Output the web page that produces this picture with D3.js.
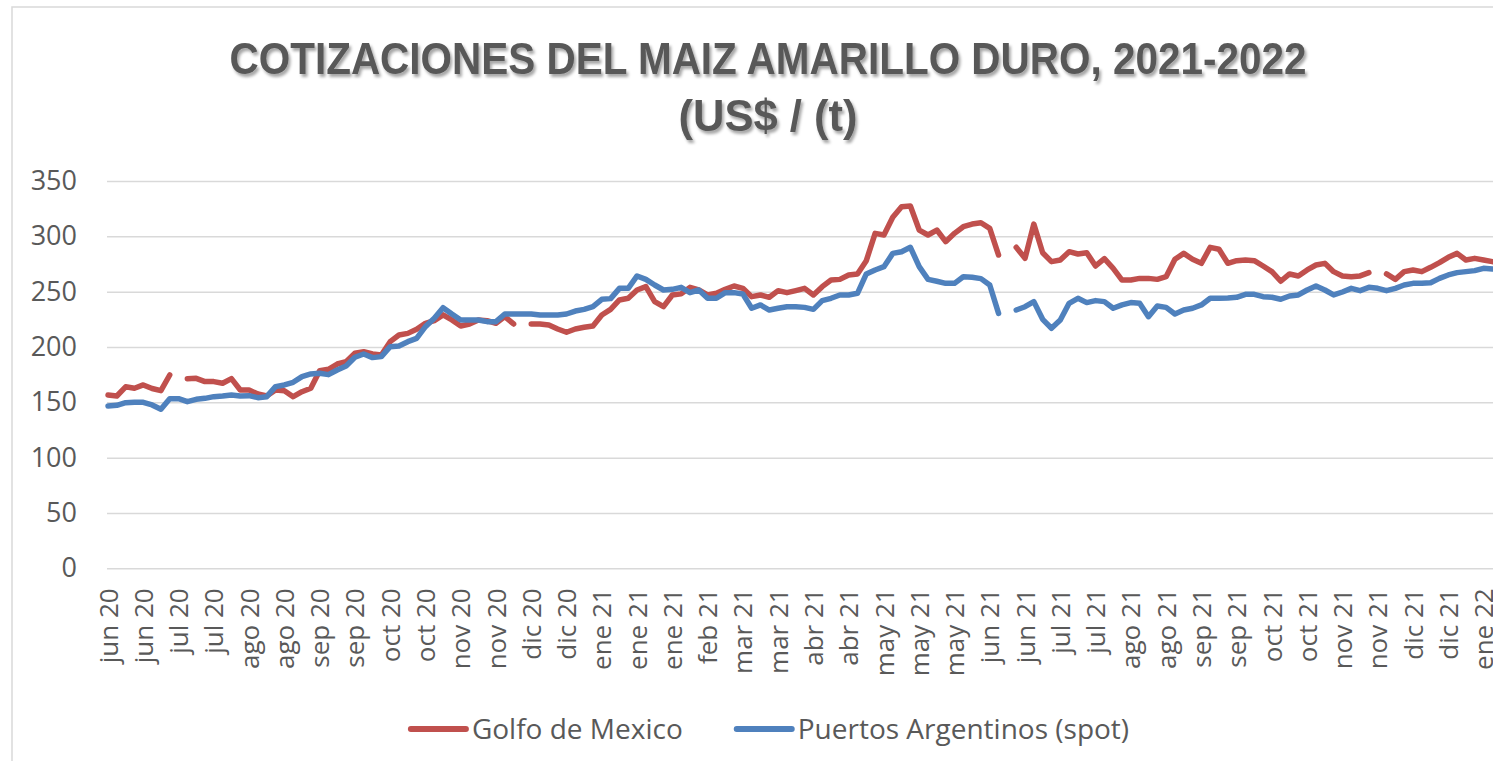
<!DOCTYPE html>
<html>
<head>
<meta charset="utf-8">
<script src="https://cdn.jsdelivr.net/npm/d3@7"></script>
<style>
  body { margin: 0; background: #fff; }
  svg { display: block; font-family: "Open Sans", sans-serif; }
</style>
</head>
<body>
<svg id="chart"></svg>
<script>
// etiquetas del eje x (una cada 4 observaciones)
const tickLabels = [
  "jun 20", "jun 20", "jul 20", "jul 20", "ago 20", "ago 20", "sep 20", "sep 20",
  "oct 20", "oct 20", "nov 20", "nov 20", "dic 20", "dic 20", "ene 21", "ene 21",
  "ene 21", "feb 21", "mar 21", "mar 21", "abr 21", "abr 21", "may 21", "may 21",
  "may 21", "jun 21", "jun 21", "jul 21", "jul 21", "ago 21", "ago 21", "sep 21",
  "sep 21", "oct 21", "oct 21", "nov 21", "nov 21", "dic 21", "dic 21", "ene 22"
];

// Golfo de Mexico (US$/t)
const golfo = [
  156.6, 155.7, 164, 162.7, 165.7, 162.5, 160.5, 174.7, null, 171.4,
  171.7, 168.7, 168.7, 167.2, 171.4, 161.1, 161.1, 157.5, 155.7, 161.1,
  160.5, 155.1, 159.6, 162.7, 178.6, 179.8, 184.6, 186.7, 194.3, 195.8,
  193.7, 192.8, 204.8, 210.8, 212.3, 216, 221.4, 223.8, 229, 224.4,
  219, 220.8, 224.4, 223.8, 221.4, 227.4, 220.8, null, 220.8, 220.8,
  219.9, 216.3, 213.3, 216.3, 217.8, 219, 228.9, 234, 242.5, 244,
  251.5, 254.5, 241, 236.4, 247, 248, 253.9, 251.5, 247, 248.5,
  252.1, 255.1, 253, 245.5, 247, 244.9, 250.9, 249.1, 251, 253,
  247, 254.5, 260.5, 261.1, 265.1, 266, 278, 302.7, 301.2, 317.2,
  326.8, 327.4, 305.7, 301.2, 305.7, 295.2, 302.7, 308.7, 311.1, 312.3,
  307.2, 283.1, null, 290.1, 280.1, 311.1, 285.2, 277.1, 278.6, 286.1,
  284, 285.2, 273.2, 279.8, 271.1, 260.5, 260.5, 262, 262, 261.1,
  263.5, 279.2, 284.6, 279.2, 275.6, 290, 288.3, 275.6, 278, 278.6,
  278, 273.2, 268.1, 259.4, 266, 264.2, 269.6, 274.1, 275.6, 268.1,
  264.2, 263.5, 264.2, 267.2, null, 266, 261.1, 268.1, 269.6, 268.1,
  272, 276.2, 281, 284.6, 278.6, 280.1, 278.6, 277.1
];

// Puertos Argentinos (spot) (US$/t)
const puertos = [
  146.7, 147.3, 149.7, 150, 150, 147.6, 143.7, 153.3, 153.3, 150.6,
  152.7, 153.6, 155.1, 155.7, 156.6, 155.7, 156, 154.2, 155.1, 164.2,
  165.7, 168.1, 173.2, 175.6, 176.2, 175, 179.2, 182.8, 190.7, 193.7,
  190.4, 191.3, 200.3, 200.9, 204.8, 207.8, 218.4, 225.9, 235.5, 229.8,
  224.4, 224.4, 224.4, 222.9, 222.9, 229.8, 229.8, 229.8, 229.8, 228.9,
  228.9, 228.9, 229.8, 232.5, 234, 236.4, 243.1, 243.7, 253, 253,
  264.2, 261.1, 256, 251.5, 252.1, 253.9, 249.1, 251.5, 244, 244,
  249.1, 249.1, 247.9, 235, 238, 233.4, 235, 236.4, 236.4, 235.8,
  234, 241.9, 244, 247, 247, 248.5, 266, 269.6, 272.6, 284.6,
  286.1, 290.1, 272.6, 261.1, 259.4, 257.5, 257.5, 263.5, 263, 261.8,
  256, 230.4, null, 233.4, 236.4, 241, 225, 216.9, 224.4, 239.5,
  244, 240.1, 241.9, 241, 235, 238, 240.1, 239.5, 227.4, 237,
  235.8, 229.8, 233.4, 235, 238, 244, 244, 244.3, 244.9, 247.6,
  247.6, 245.5, 244.9, 243.1, 246.1, 247, 251.5, 255.1, 251.5, 247,
  249.7, 253, 250.9, 253.9, 253, 250.9, 253, 256, 257.5, 257.5,
  258.1, 262, 265.1, 267.2, 268.1, 269, 271.1, 270.5
];

const yTicks = [0, 50, 100, 150, 200, 250, 300, 350];
const seriesNames = ["Golfo de Mexico", "Puertos Argentinos (spot)"];

const w = 1493;
const h = 761;
const plotLeft = 107;
const step = 8.8175;
const colors = ["#c0504d", "#4f81bd"];
const grey = "#595959";

const svg = d3.select("#chart")
  .attr("width", w)
  .attr("height", h);

const defs = svg.append("defs");
defs.append("filter")
  .attr("id", "shadow")
  .attr("x", "-5%").attr("y", "-30%").attr("width", "110%").attr("height", "160%")
  .append("feDropShadow")
  .attr("dx", 2).attr("dy", 3)
  .attr("stdDeviation", 1.6)
  .attr("flood-color", "#000")
  .attr("flood-opacity", 0.35);

// marco del grafico
svg.append("rect")
  .attr("x", 12).attr("y", 7)
  .attr("width", w).attr("height", h)
  .attr("fill", "none")
  .attr("stroke", "#d9d9d9")
  .attr("stroke-width", 1.5);

const xScale = d3.scaleLinear()
  .domain([0, golfo.length - 1])
  .range([plotLeft + 1, plotLeft + 1 + step * (golfo.length - 1)]);

const yScale = d3.scaleLinear()
  .domain([0, 350])
  .range([568.3, 181]);

// eje y + lineas de cuadricula
svg.append("g")
  .attr("transform", "translate(" + plotLeft + ",0)")
  .call(d3.axisLeft(yScale)
    .tickValues(yTicks)
    .tickSize(-(w - plotLeft))
    .tickPadding(30))
  .call(g => g.select(".domain").remove())
  .call(g => g.selectAll(".tick line")
    .attr("stroke", "#d9d9d9")
    .attr("stroke-width", 1.5))
  .call(g => g.selectAll(".tick text")
    .attr("fill", grey)
    .attr("font-size", 27)
    .attr("font-family", "'Open Sans', sans-serif"));

// eje x con etiquetas rotadas
svg.append("g")
  .attr("transform", "translate(0," + yScale(0) + ")")
  .call(d3.axisBottom(xScale)
    .tickValues(d3.range(0, tickLabels.length * 4, 4))
    .tickFormat(i => tickLabels[i / 4])
    .tickSize(0))
  .call(g => g.select(".domain").remove())
  .call(g => g.selectAll(".tick text")
    .attr("fill", grey)
    .attr("font-size", 26)
    .attr("font-family", "'Open Sans', sans-serif")
    .attr("text-anchor", "end")
    .attr("transform", "rotate(-90)")
    .attr("x", -20)
    .attr("y", 0)
    .attr("dy", "0.35em"));

const line = d3.line()
  .defined(d => d != null)
  .x((d, i) => xScale(i))
  .y(d => yScale(d));

[golfo, puertos].forEach((data, k) => {
  svg.append("path")
    .datum(data)
    .attr("fill", "none")
    .attr("stroke", colors[k])
    .attr("stroke-width", 5.5)
    .attr("stroke-linejoin", "round")
    .attr("stroke-linecap", "round")
    .attr("d", line);
});

// titulo
svg.append("text")
  .attr("x", 768).attr("y", 74)
  .attr("text-anchor", "middle")
  .attr("font-family", "'Liberation Sans', Arial, sans-serif")
  .attr("font-weight", "bold")
  .attr("font-size", 45)
  .attr("fill", grey)
  .attr("textLength", 1077)
  .attr("lengthAdjust", "spacingAndGlyphs")
  .attr("filter", "url(#shadow)")
  .text("COTIZACIONES DEL MAIZ AMARILLO DURO, 2021-2022");

svg.append("text")
  .attr("x", 768).attr("y", 131)
  .attr("text-anchor", "middle")
  .attr("font-family", "'Liberation Sans', Arial, sans-serif")
  .attr("font-weight", "bold")
  .attr("font-size", 45)
  .attr("fill", grey)
  .attr("textLength", 179)
  .attr("lengthAdjust", "spacingAndGlyphs")
  .attr("filter", "url(#shadow)")
  .text("(US$ / (t)");

// leyenda
const legend = svg.append("g");
let lx = 0;
seriesNames.forEach((name, k) => {
  const item = legend.append("g").attr("transform", "translate(" + lx + ",0)");
  item.append("line")
    .attr("x1", 0).attr("x2", 55)
    .attr("y1", 0).attr("y2", 0)
    .attr("stroke", colors[k])
    .attr("stroke-width", 6)
    .attr("stroke-linecap", "round");
  const t = item.append("text")
    .attr("x", 61).attr("y", 10)
    .attr("font-size", 28)
    .attr("fill", grey)
    .text(name);
  lx += 61 + t.node().getComputedTextLength() + 54;
});
const legendWidth = lx - 54;
legend.attr("transform", "translate(" + (770 - legendWidth / 2) + ",729)");
</script>
</body>
</html>
